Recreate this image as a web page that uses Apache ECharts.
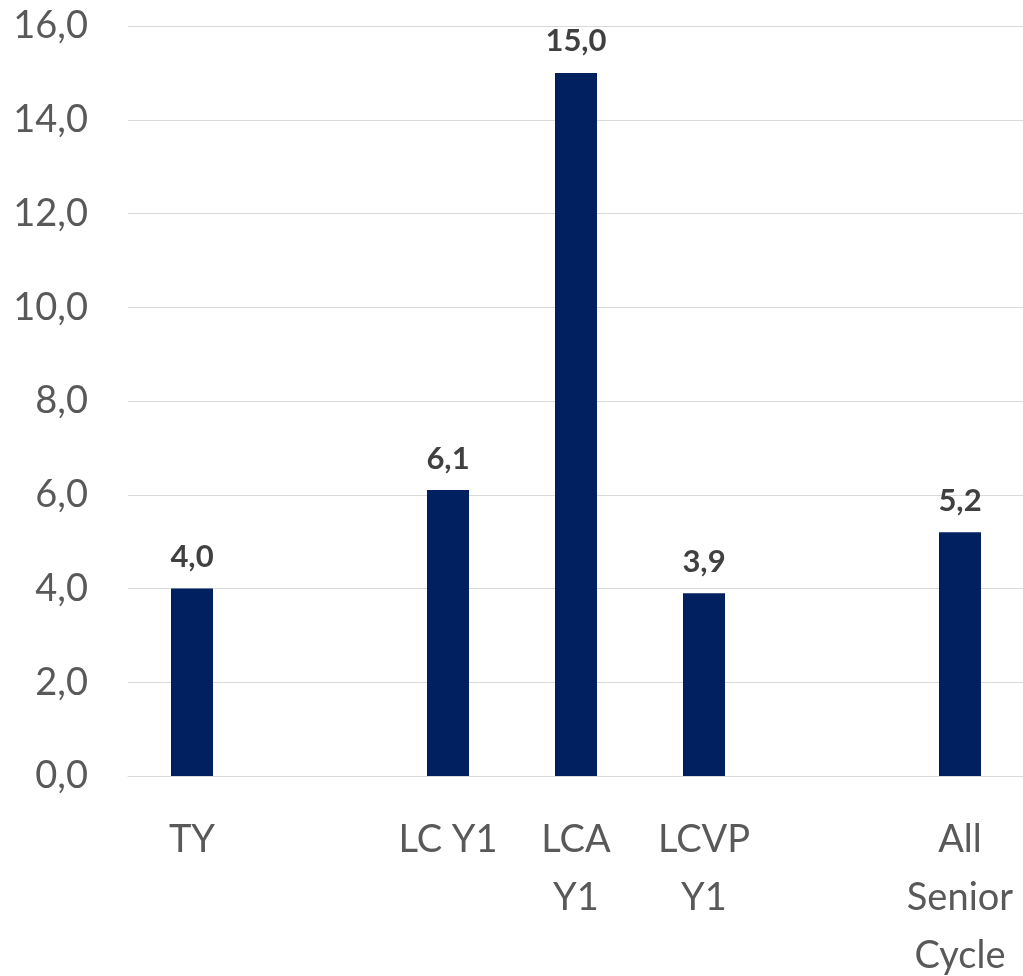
<!DOCTYPE html>
<html>
<head>
<meta charset="utf-8">
<script src="https://cdn.jsdelivr.net/npm/echarts@6/dist/echarts.min.js"></script>
<style>
  html, body { margin: 0; padding: 0; background: #ffffff; overflow: hidden; }
  #chart { width: 1023px; height: 976px; }
</style>
</head>
<body>
<div id="chart"></div>
<script>
// Categories (blank slots keep the gaps between groups)
const categories = ['TY', '', 'LC Y1', 'LCA\nY1', 'LCVP\nY1', '', 'All\nSenior\nCycle'];
// Values per category (null = empty slot)
const values = [4.0, null, 6.1, 15.0, 3.9, null, 5.2];
// Value axis ticks
const yMin = 0;
const yMax = 16;
const yStep = 2;

const fmt = v => v.toFixed(1).replace('.', ',');

const chart = echarts.init(document.getElementById('chart'));
chart.setOption({
  animation: false,
  backgroundColor: '#ffffff',
  grid: {
    left: 128, right: -1, top: 26, bottom: 200,
    containLabel: false,
    outerBoundsMode: 'none'
  },
  xAxis: {
    type: 'category',
    data: categories,
    axisLine: { show: true, lineStyle: { color: '#d9d9d9', width: 1 } },
    axisTick: { show: false },
    axisLabel: {
      interval: 0,
      margin: 35,
      color: '#595959',
      fontFamily: 'Lato',
      fontSize: 38,
      lineHeight: 58,
      overflow: 'none'
    }
  },
  yAxis: {
    type: 'value',
    min: yMin,
    max: yMax,
    interval: yStep,
    axisLine: { show: false },
    axisTick: { show: false },
    splitLine: { lineStyle: { color: '#d9d9d9', width: 1 } },
    axisLabel: {
      margin: 40,
      color: '#595959',
      fontFamily: 'Lato',
      fontSize: 38,
      formatter: v => fmt(v)
    }
  },
  series: [{
    type: 'bar',
    data: values,
    barWidth: 42,
    itemStyle: { color: '#002060' },
    label: {
      show: true,
      position: 'top',
      distance: 16,
      color: '#404040',
      fontFamily: 'Lato',
      fontWeight: 'bold',
      fontSize: 31,
      formatter: p => fmt(p.value)
    }
  }]
});
</script>
</body>
</html>
